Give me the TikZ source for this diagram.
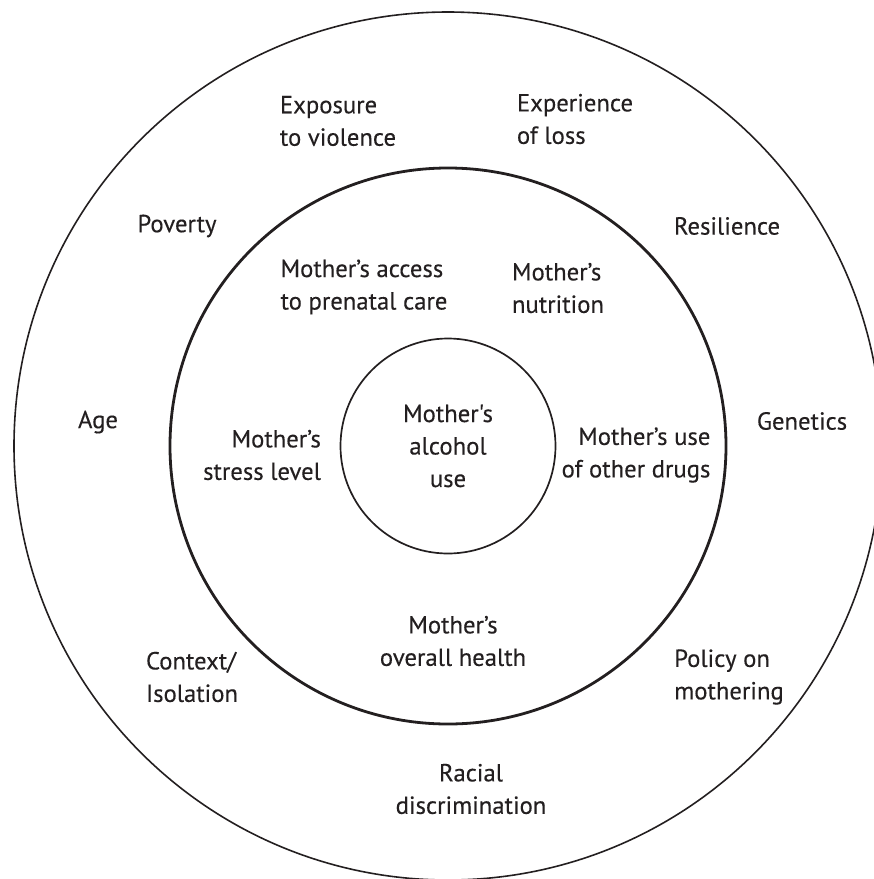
\documentclass[tikz,border=0pt]{standalone}
\usepackage{fontspec}
\setmainfont{PT Sans}[Ligatures=TeXOff, FakeBold=0.25]
\definecolor{ink}{HTML}{231F20}
\tikzset{
  lbl/.style={inner sep=0pt, text=ink, font=\fontsize{12.4}{16.3}\selectfont},
  ring/.style={draw=ink}
}
\begin{document}
\begin{tikzpicture}[x=0.5bp, y=-0.5bp]
		\useasboundingbox (0,0) rectangle (874,879);
		\clip (0,0) rectangle (874,879);
		%\draw[help lines, step=50] (0,0) grid (874,879);
		
		\coordinate (ctr) at (448,446);
		\draw[ring, line width=0.8bp] (ctr) circle[radius=434];
		\draw[ring, line width=1.4bp] (ctr) circle[radius=278];
		\draw[ring, line width=0.85bp] (ctr) circle[radius=107.5];
		
		% outer ring
		\foreach \n/\x/\y/\a/\t in {exposure/338/121/left/{Exposure\\to violence},
			loss/575/119/left/{Experience\\of loss},
			poverty/177/226/center/{Poverty},
			resilience/727/226/center/{Resilience},
			age/98/422/center/{Age},
			genetics/802/421/center/{Genetics},
			context/192/677/left/{Context/\\Isolation},
			policy/729/677/left/{Policy on\\mothering},
			racial/471/789/center/{Racial\\discrimination}}
		\node[lbl, align=\a] (\n) at (\x,\y) {\t};
		
		% middle ring
		\foreach \n/\x/\y/\a/\t in {access/364/287/left/{Mother’s access\\to prenatal care},
			nutrition/558/288/left/{Mother’s\\nutrition},
			stress/262/455/right/{Mother’s\\stress level},
			drugs/636/455/right/{Mother’s use\\of other drugs},
			health/453/641/center/{Mother’s\\overall health}}
		\node[lbl, align=\a] (\n) at (\x,\y) {\t};
		
		\node[lbl, align=center] (alcohol) at (ctr) {Mother's\\alcohol\\use};
	\end{tikzpicture}
\end{document}
